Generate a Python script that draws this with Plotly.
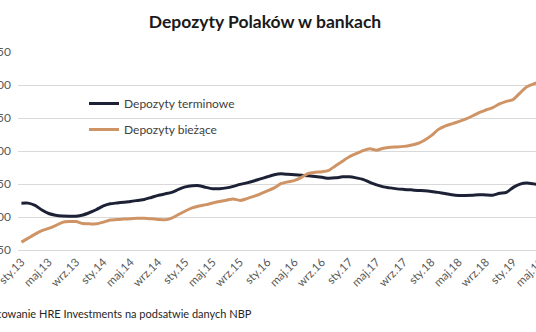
import plotly.graph_objects as go

# Polish month abbreviations and years covered by the series (Jan 2013 - May 2019)
month_abbr = ["sty", "lut", "mar", "kwi", "maj", "cze", "lip", "sie", "wrz", "paź", "lis", "gru"]
years = ["13", "14", "15", "16", "17", "18", "19"]
months = [f"{m}.{y}" for y in years for m in month_abbr][:77]

# Household deposits, bln PLN
terminowe = [
    321.0, 321.0, 317.5, 310.6, 305.3, 302.7, 301.5, 301.2, 301.2, 303.0,
    306.8, 311.4, 316.7, 320.0, 321.3, 322.5, 323.6, 325.1, 326.6, 329.6,
    332.7, 335.0, 337.3, 341.8, 345.6, 347.2, 347.5, 344.9, 342.9, 342.9,
    344.1, 346.4, 349.4, 351.7, 354.5, 357.8, 360.9, 363.9, 365.4, 364.7,
    363.9, 363.1, 362.4, 361.3, 360.1, 358.6, 359.3, 360.9, 360.9, 359.3,
    357.1, 352.5, 348.7, 345.6, 344.1, 342.6, 341.8, 341.1, 340.3, 339.8,
    338.8, 337.3, 335.7, 333.8, 332.7, 332.7, 333.0, 333.9, 333.4, 333.0,
    336.0, 337.3, 344.9, 349.9, 351.4, 350.2, 348.7,
]
biezace = [
    261.9, 268.0, 274.1, 279.4, 282.7, 287.0, 291.9, 293.1, 293.1, 290.0,
    289.6, 289.6, 292.3, 295.4, 296.4, 296.9, 297.4, 298.0, 298.0, 297.2,
    296.4, 295.7, 298.4, 303.8, 309.1, 313.7, 316.7, 318.7, 321.3, 323.6,
    325.4, 327.4, 325.1, 327.8, 331.2, 335.0, 339.5, 344.1, 350.5, 353.2,
    355.5, 360.1, 366.2, 367.7, 368.5, 370.8, 377.6, 384.5, 391.3, 395.9,
    400.5, 403.5, 401.2, 404.3, 405.8, 406.1, 407.0, 408.8, 411.4, 416.4,
    423.3, 432.4, 437.8, 441.1, 444.6, 448.4, 453.0, 458.3, 462.1, 465.9,
    471.3, 475.1, 478.1, 488.0, 497.2, 501.7, 504.8,
]

series_names = ["Depozyty terminowe", "Depozyty bieżące"]
series_colors = ["#1d2136", "#cf9466"]
y_ticks = [250, 300, 350, 400, 450, 500, 550]
x_ticks = months[::4]

FONT = "Lato, 'Open Sans', sans-serif"
W, H = 544, 332
ML, MT, MB = 18, 52, 82

fig = go.Figure()
for i, (name, vals, col) in enumerate(zip(series_names, [terminowe, biezace], series_colors)):
    fig.add_trace(go.Scatter(
        x=months, y=vals, name=name, mode="lines",
        line=dict(color=col, width=3, shape="spline", smoothing=0.6),
        legendgroup=f"g{i}",
    ))

fig.update_layout(
    width=W, height=H,
    margin=dict(l=ML, r=0, t=MT, b=MB, autoexpand=False),
    paper_bgcolor="white", plot_bgcolor="white",
    font=dict(family=FONT, color="#595959", size=11),
    title=dict(
        text="<b>Depozyty Polaków w bankach</b>",
        x=265 / W, xref="container", xanchor="center",
        y=1 - 22 / H, yref="container", yanchor="middle",
        font=dict(family=FONT, size=17.5, color="#1a1a1a"),
    ),
    showlegend=True,
    legend=dict(
        x=(84 - ML) / (W - ML), xanchor="left",
        y=1 - (89 - MT) / (H - MT - MB), yanchor="top",
        bgcolor="rgba(0,0,0,0)",
        font=dict(family=FONT, size=12, color="#404040"),
        tracegroupgap=7, itemwidth=30,
    ),
    xaxis=dict(
        type="category", range=[-0.5, len(months) - 0.5],
        tickmode="array", tickvals=x_ticks, ticktext=x_ticks,
        tickangle=-45, showgrid=False, zeroline=False,
        showline=True, linecolor="#d9d9d9", linewidth=1,
        ticks="", tickfont=dict(size=11.5, color="#595959"),
    ),
    yaxis=dict(
        range=[250, 550], tickvals=y_ticks,
        showgrid=True, gridcolor="#d9d9d9", gridwidth=1,
        zeroline=False, showline=False, ticks="",
        ticklabelstandoff=6,
        tickfont=dict(size=12, color="#595959"),
    ),
)

fig.add_annotation(
    text="Opracowanie HRE Investments na podsatwie danych NBP",
    xref="paper", yref="paper",
    x=(254 - ML) / (W - ML), xanchor="right",
    y=-(313 - (H - MB)) / (H - MT - MB), yanchor="middle",
    showarrow=False,
    font=dict(family=FONT, size=11, color="#262626"),
)

fig.write_html(
    "out.html",
    post_script="document.body.style.margin='0';document.body.style.overflow='hidden';",
)
